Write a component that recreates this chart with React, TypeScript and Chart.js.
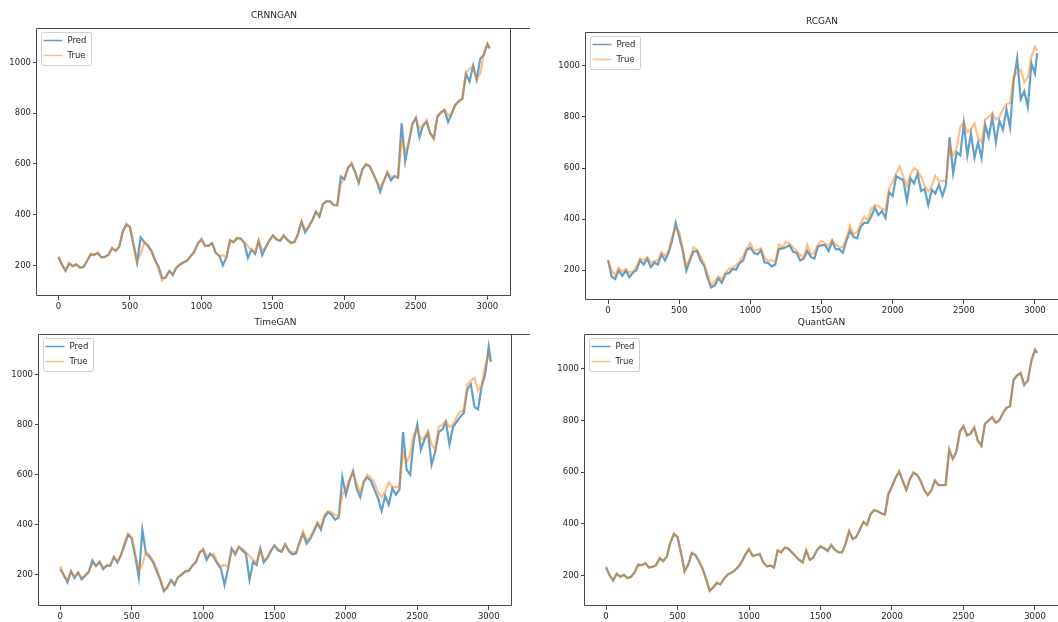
import React, { useEffect, useRef } from "react";
import { Chart, registerables } from "chart.js";

Chart.register(...registerables);

// ---------- data ----------
const X_INDEX = [
  0, 25, 50, 75, 100, 125, 150, 175, 200, 225,
  250, 275, 300, 325, 350, 375, 400, 425, 450, 475,
  500, 525, 550, 575, 600, 625, 650, 675, 700, 725,
  750, 775, 800, 825, 850, 875, 900, 925, 950, 975,
  1000, 1025, 1050, 1075, 1100, 1125, 1150, 1175, 1200, 1225,
  1250, 1275, 1300, 1325, 1350, 1375, 1400, 1425, 1450, 1475,
  1500, 1525, 1550, 1575, 1600, 1625, 1650, 1675, 1700, 1725,
  1750, 1775, 1800, 1825, 1850, 1875, 1900, 1925, 1950, 1975,
  2000, 2025, 2050, 2075, 2100, 2125, 2150, 2175, 2200, 2225,
  2250, 2275, 2300, 2325, 2350, 2375, 2400, 2425, 2450, 2475,
  2500, 2525, 2550, 2575, 2600, 2625, 2650, 2675, 2700, 2725,
  2750, 2775, 2800, 2825, 2850, 2875, 2900, 2925, 2950, 2975,
  3000, 3015,
];

const TRUE_PRICE = [
  235, 200, 180, 210, 195, 205, 190, 195, 215, 245,
  240, 250, 230, 235, 240, 270, 255, 275, 330, 365,
  350, 285, 215, 245, 290, 280, 255, 225, 185, 140,
  155, 175, 165, 190, 205, 210, 220, 235, 255, 285,
  305, 275, 280, 285, 250, 235, 240, 230, 300, 290,
  310, 305, 290, 275, 260, 250, 300, 260, 270, 300,
  315, 305, 295, 320, 300, 290, 290, 325, 375, 340,
  350, 380, 410, 395, 440, 455, 450, 440, 435, 520,
  545, 580, 605, 565, 530, 575, 600, 590, 565, 530,
  510, 530, 570, 550, 550, 550, 690, 650, 680, 760,
  780, 740, 750, 775, 720, 700, 790, 800, 815, 790,
  800, 830, 850, 855, 960, 975, 985, 935, 955, 1035,
  1075, 1060,
];

const PRED_CRNNGAN = [
  232, 203, 178, 207, 197, 203, 192, 193, 218, 243,
  242, 248, 232, 233, 242, 267, 258, 272, 335, 360,
  352, 280, 210, 310, 292, 277, 258, 220, 195, 150,
  152, 178, 162, 192, 203, 212, 218, 237, 253, 287,
  302, 278, 277, 288, 248, 238, 200, 232, 298, 292,
  307, 306, 288, 230, 262, 245, 295, 240, 272, 297,
  318, 302, 297, 317, 302, 288, 292, 322, 372, 330,
  352, 377, 412, 392, 442, 452, 452, 437, 438, 550,
  540, 585, 600, 568, 525, 578, 597, 592, 562, 533,
  490, 532, 565, 535, 552, 545, 760, 610, 685, 755,
  782, 705, 752, 765, 722, 700, 785, 803, 812, 765,
  798, 833, 846, 858, 955, 925, 988, 932, 1015, 1030,
  1072, 1055,
];

const PRED_RCGAN = [
  240, 175, 165, 200, 178, 198, 172, 190, 200, 238,
  222, 245, 212, 230, 222, 262, 238, 268, 315, 385,
  332, 275, 198, 238, 272, 275, 238, 218, 168, 132,
  140, 168, 150, 185, 188, 205, 202, 228, 238, 280,
  288, 268, 262, 278, 230, 228, 215, 222, 282, 285,
  290, 298, 272, 268, 238, 245, 275, 252, 245, 293,
  298, 298, 275, 312, 282, 282, 268, 315, 355, 330,
  325, 370, 385, 385, 410, 445, 415, 432, 405, 505,
  490, 568, 560, 552, 470, 560, 540, 578, 510, 518,
  455, 515, 500, 535, 490, 535, 720, 580, 662, 650,
  775, 650, 735, 640, 700, 640, 770, 720, 800, 700,
  785, 750, 830, 760, 940, 1030, 870, 900, 840, 1010,
  970, 1050,
];

const PRED_TIMEGAN = [
  225, 198, 170, 215, 188, 210, 182, 198, 212, 258,
  235, 252, 222, 238, 236, 272, 250, 280, 320, 360,
  345, 275, 190, 380, 285, 272, 250, 215, 180, 135,
  150, 180, 160, 192, 200, 215, 215, 238, 250, 290,
  300, 260, 285, 270, 245, 225, 160, 225, 305, 282,
  312, 298, 285, 180, 252, 240, 305, 250, 268, 295,
  318, 298, 292, 322, 295, 282, 285, 330, 365, 325,
  345, 372, 405, 380, 430, 450, 440, 420, 430, 590,
  520, 575, 615, 545, 510, 570, 590, 575, 540, 505,
  455, 515, 480, 545, 520, 540, 770, 620, 600, 735,
  800, 700, 740, 765, 640, 690, 770, 780, 810, 720,
  790, 810, 830, 845, 940, 960, 870, 860, 950, 1000,
  1110, 1050,
];

const PRED_QUANTGAN = [
  232, 202, 182, 207, 196, 203, 191, 196, 213, 242,
  241, 248, 232, 234, 241, 267, 257, 273, 327, 360,
  350, 288, 218, 243, 287, 280, 256, 228, 188, 143,
  155, 172, 167, 188, 204, 211, 221, 234, 254, 282,
  302, 277, 280, 283, 252, 236, 239, 232, 297, 291,
  308, 304, 291, 276, 262, 252, 296, 262, 270, 298,
  313, 306, 296, 318, 301, 291, 290, 322, 371, 343,
  350, 378, 407, 397, 437, 453, 449, 441, 437, 515,
  545, 578, 602, 567, 532, 572, 598, 590, 567, 532,
  512, 529, 567, 551, 550, 551, 685, 652, 678, 756,
  778, 743, 749, 772, 723, 703, 785, 800, 812, 792,
  800, 827, 848, 855, 955, 973, 982, 938, 953, 1030,
  1072, 1062,
];

const X_TICKS = [0, 500, 1000, 1500, 2000, 2500, 3000];
const Y_TICKS = [200, 400, 600, 800, 1000];
const PRED_LABEL = "Pred";
const TRUE_LABEL = "True";
const TITLES = ["CRNNGAN", "RCGAN", "TimeGAN", "QuantGAN"];

// ---------- styles / layout ----------
const FONT = '"DejaVu Sans", "Liberation Sans", sans-serif';
const PRED_COLOR = "rgba(31,119,180,0.7)";
const TRUE_COLOR = "rgba(255,127,14,0.5)";
const AXIS_COLOR = "#4a4a4a";
const TEXT_COLOR = "#262626";
const LINE_W = 2.2;

type Panel = {
  title: string;
  pred: number[];
  left: number;
  top: number;
  width: number;
  height: number;
  yAxisW: number;
  padRight: number;
  xAxisH: number;
  titleTop: number;
  titleH: number;
  xMin: number;
  xMax: number;
  yMin: number;
  yMax: number;
  rightSpine: boolean;
};

const PANELS: Panel[] = [
  { title: TITLES[0], pred: PRED_CRNNGAN, left: 0, top: 0, width: 530, height: 316, yAxisW: 37, padRight: 19, xAxisH: 20, titleTop: 10.6, titleH: 28, xMin: -150, xMax: 3165, yMin: 79, yMax: 1136, rightSpine: true },
  { title: TITLES[1], pred: PRED_RCGAN, left: 528, top: 0, width: 530, height: 316, yAxisW: 58, padRight: 0, xAxisH: 16, titleTop: 16.3, titleH: 32, xMin: -155, xMax: 3162, yMin: 83, yMax: 1133, rightSpine: false },
  { title: TITLES[2], pred: PRED_TIMEGAN, left: 0, top: 316, width: 530, height: 306, yAxisW: 39, padRight: 18, xAxisH: 16, titleTop: 1.6, titleH: 18, xMin: -149, xMax: 3163, yMin: 76, yMax: 1161, rightSpine: true },
  { title: TITLES[3], pred: PRED_QUANTGAN, left: 528, top: 316, width: 530, height: 306, yAxisW: 57, padRight: 0, xAxisH: 16, titleTop: 1.6, titleH: 18, xMin: -147, xMax: 3161, yMin: 83, yMax: 1134, rightSpine: false },
];

const framePlugin = {
  id: "frameBox",
  afterDraw(chart: any, _args: any, opts: any) {
    const { ctx, chartArea } = chart;
    const l = Math.round(chartArea.left) - 0.5;
    const r = Math.round(chartArea.right) - 0.5;
    const t = Math.round(chartArea.top) + 0.5;
    const b = Math.round(chartArea.bottom) - 0.5;
    ctx.save();
    ctx.strokeStyle = AXIS_COLOR;
    ctx.lineWidth = 1;
    ctx.beginPath();
    ctx.moveTo(r + 20, t);
    ctx.lineTo(l, t);
    ctx.lineTo(l, b);
    ctx.lineTo(r + (opts.right ? 0 : 20), b);
    if (opts.right) {
      ctx.moveTo(r, t);
      ctx.lineTo(r, b);
    }
    ctx.stroke();
    ctx.restore();
  },
};

const legendPlugin = {
  id: "insideLegend",
  afterDraw(chart: any) {
    const { ctx, chartArea, data } = chart;
    const x = Math.round(chartArea.left) + 4.5;
    const y = Math.round(chartArea.top) + 4.5;
    const w = 50;
    const h = 33;
    const rad = 2;
    ctx.save();
    ctx.beginPath();
    ctx.moveTo(x + rad, y);
    ctx.lineTo(x + w - rad, y);
    ctx.arcTo(x + w, y, x + w, y + rad, rad);
    ctx.lineTo(x + w, y + h - rad);
    ctx.arcTo(x + w, y + h, x + w - rad, y + h, rad);
    ctx.lineTo(x + rad, y + h);
    ctx.arcTo(x, y + h, x, y + h - rad, rad);
    ctx.lineTo(x, y + rad);
    ctx.arcTo(x, y, x + rad, y, rad);
    ctx.closePath();
    ctx.fillStyle = "rgba(255,255,255,0.8)";
    ctx.fill();
    ctx.strokeStyle = "#d0d0d0";
    ctx.lineWidth = 1;
    ctx.stroke();
    data.datasets.forEach((ds: any, i: number) => {
      const yy = y + 8 + i * 15;
      ctx.beginPath();
      ctx.strokeStyle = ds.borderColor;
      ctx.lineWidth = 1.5;
      ctx.moveTo(x + 2, yy);
      ctx.lineTo(x + 21, yy);
      ctx.stroke();
      ctx.fillStyle = TEXT_COLOR;
      ctx.font = `8.5px ${FONT}`;
      ctx.textBaseline = "middle";
      ctx.textAlign = "left";
      ctx.fillText(ds.label, x + 26, yy);
    });
    ctx.restore();
  },
};

function toPoints(values: number[]) {
  return X_INDEX.map((xv, i) => ({ x: xv, y: values[i] }));
}

function PanelChart({ p }: { p: Panel }) {
  const ref = useRef<HTMLCanvasElement | null>(null);
  useEffect(() => {
    if (!ref.current) return;
    const chart = new Chart(ref.current, {
      type: "line",
      data: {
        datasets: [
          {
            label: PRED_LABEL,
            data: toPoints(p.pred),
            borderColor: PRED_COLOR,
            backgroundColor: PRED_COLOR,
            borderWidth: LINE_W,
            pointRadius: 0,
            tension: 0,
            order: 1,
          },
          {
            label: TRUE_LABEL,
            data: toPoints(TRUE_PRICE),
            borderColor: TRUE_COLOR,
            backgroundColor: TRUE_COLOR,
            borderWidth: LINE_W,
            pointRadius: 0,
            tension: 0,
            order: 0,
          },
        ],
      },
      options: {
        animation: false,
        responsive: false,
        maintainAspectRatio: false,
        devicePixelRatio: 1,
        events: [],
        layout: { padding: { left: 0, right: p.padRight, top: 0, bottom: 0 } },
        plugins: {
          legend: { display: false },
          tooltip: { enabled: false },
          title: {
            display: true,
            text: p.title,
            fullSize: false,
            color: TEXT_COLOR,
            font: { family: FONT, size: 9, weight: "normal", lineHeight: 1.2 },
            padding: { top: p.titleTop, bottom: p.titleH - 10.8 - p.titleTop },
          },
          frameBox: { right: p.rightSpine },
        } as any,
        scales: {
          x: {
            type: "linear",
            min: p.xMin,
            max: p.xMax,
            afterBuildTicks: (scale: any) => {
              scale.ticks = X_TICKS.map((value) => ({ value }));
            },
            afterFit: (scale: any) => {
              scale.height = p.xAxisH;
            },
            grid: { display: true, drawOnChartArea: false, drawTicks: true, tickLength: 4, color: AXIS_COLOR, lineWidth: 1 },
            border: { display: false },
            ticks: {
              autoSkip: false,
              maxRotation: 0,
              padding: 2,
              color: TEXT_COLOR,
              font: { family: FONT, size: 8.5 },
              callback: (v: any) => String(v),
            },
          },
          y: {
            type: "linear",
            min: p.yMin,
            max: p.yMax,
            afterBuildTicks: (scale: any) => {
              scale.ticks = Y_TICKS.map((value) => ({ value }));
            },
            afterFit: (scale: any) => {
              scale.width = p.yAxisW;
            },
            grid: { display: true, drawOnChartArea: false, drawTicks: true, tickLength: 4, color: AXIS_COLOR, lineWidth: 1 },
            border: { display: false },
            ticks: {
              autoSkip: false,
              padding: 2,
              color: TEXT_COLOR,
              font: { family: FONT, size: 8.5 },
              callback: (v: any) => String(v),
            },
          },
        },
      },
      plugins: [framePlugin, legendPlugin],
    } as any);
    return () => chart.destroy();
  }, [p]);
  return (
    <canvas
      ref={ref}
      width={p.width}
      height={p.height}
      style={{ position: "absolute", left: p.left, top: p.top, width: p.width, height: p.height }}
    />
  );
}

export default function App() {
  return (
    <div style={{ position: "absolute", left: 0, top: 0, width: 1058, height: 622, background: "#fff", overflow: "hidden" }}>
      {PANELS.map((p) => (
        <PanelChart key={p.title} p={p} />
      ))}
    </div>
  );
}
